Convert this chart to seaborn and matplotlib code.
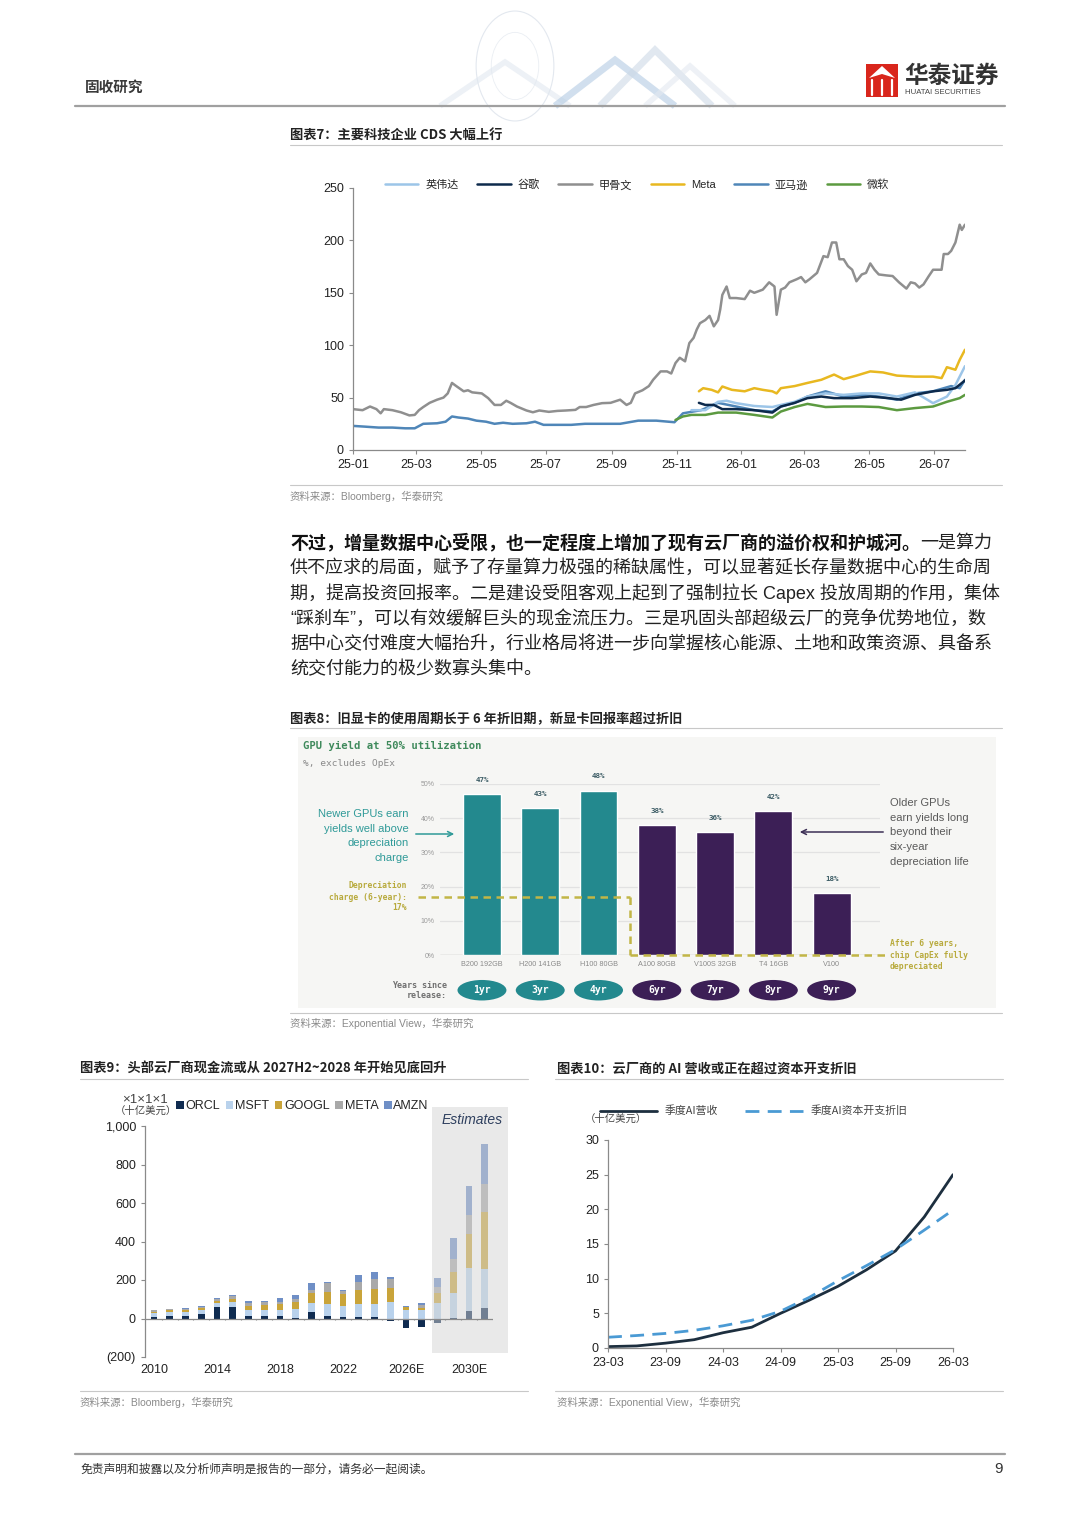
import numpy as np
import pandas as pd
import matplotlib
matplotlib.use('Agg')
import matplotlib.pyplot as plt
import matplotlib.dates as mdates
from matplotlib.patches import Rectangle, Ellipse, Polygon, Circle, FancyArrowPatch, Patch
from matplotlib.lines import Line2D
from matplotlib.text import Annotation
import seaborn as sns

# ---------------- DATA ----------------
# Chart 7: CDS (bp)
oracle_dates = ['2025-01-01','2025-01-10','2025-01-17','2025-01-23','2025-01-27','2025-01-30','2025-02-07','2025-02-15',
 '2025-02-23','2025-02-28','2025-03-04','2025-03-08','2025-03-14','2025-03-21','2025-03-27','2025-03-31','2025-04-04',
 '2025-04-08','2025-04-15','2025-04-19','2025-04-23','2025-05-02','2025-05-08','2025-05-14','2025-05-20','2025-05-25',
 '2025-05-29','2025-06-04','2025-06-13','2025-06-19','2025-06-25','2025-07-04','2025-07-12','2025-07-20','2025-07-29',
 '2025-08-02','2025-08-08','2025-08-15','2025-08-23','2025-08-31','2025-09-09','2025-09-15','2025-09-19','2025-09-23',
 '2025-09-30','2025-10-06','2025-10-10','2025-10-17','2025-10-23','2025-10-27','2025-10-31','2025-11-04','2025-11-09',
 '2025-11-13','2025-11-17','2025-11-20','2025-11-23','2025-11-28','2025-12-02','2025-12-06','2025-12-10','2025-12-12',
 '2025-12-14','2025-12-18','2025-12-21','2025-12-27','2026-01-04','2026-01-09','2026-01-13','2026-01-21','2026-01-27',
 '2026-02-01','2026-02-03','2026-02-07','2026-02-11','2026-02-15','2026-02-22','2026-02-26','2026-03-02','2026-03-06',
 '2026-03-13','2026-03-19','2026-03-23','2026-03-27','2026-03-31','2026-04-03','2026-04-07','2026-04-11','2026-04-15',
 '2026-04-19','2026-04-24','2026-04-28','2026-05-02','2026-05-06','2026-05-10','2026-05-17','2026-05-23','2026-05-29',
 '2026-06-05','2026-06-09','2026-06-13','2026-06-17','2026-06-21','2026-06-26','2026-06-30','2026-07-08','2026-07-10',
 '2026-07-14','2026-07-17','2026-07-21','2026-07-25','2026-07-27','2026-07-30']
oracle_cds = [39,38,41.5,39,35,39,38,36,33,33.5,38,41,45,48,50,54,64,61,56,57,55,54,49.5,43,43,47,45,41.5,37.7,36,37.7,
 36.4,37.3,37.7,38.3,41,41,43,44.7,45,48,43,45,54,57,61,67,75,75,73,83,88,84.6,102,107,115,121,124,128,118,124,134,
 148,156,145,145,144,152,150,153,160,156,129,153,155,160,163,165,160,163,169,185,184,198,198,182,182,175.5,172,161,
 167.5,169,178,172,167.5,166.6,166,160,154,160,159,155,158,166,172,172,187,187,190,198,215,210,215]

amazon_dates = ['2025-01-01','2025-01-12','2025-01-25','2025-02-07','2025-02-19','2025-02-28','2025-03-08','2025-03-21',
 '2025-03-29','2025-04-04','2025-04-10','2025-04-19','2025-04-27','2025-05-06','2025-05-14','2025-05-22','2025-05-31',
 '2025-06-13','2025-06-21','2025-06-29','2025-07-12','2025-07-25','2025-08-07','2025-08-23','2025-09-09','2025-09-26',
 '2025-10-13','2025-10-30','2025-11-07','2025-11-24','2025-12-10','2025-12-27','2026-01-13','2026-01-30','2026-02-07',
 '2026-02-20','2026-03-04','2026-03-21','2026-04-07','2026-04-24','2026-05-10','2026-05-27','2026-06-13','2026-06-30',
 '2026-07-17','2026-07-25','2026-07-30']
amazon_cds = [23,22.3,21.4,21.4,20.7,20.7,25,25.5,27,32,31,30,28,27,25,26,25,25.5,27,24,24,24,25,25,25,28,28,26.5,35,38,
 45,41.5,38,36.7,41.5,45,51,56,51,52.6,51,48,54,56,61,59,67]

msft_dates = ['2025-10-31','2025-11-07','2025-11-15','2025-11-28','2025-12-10','2025-12-27','2026-01-13','2026-01-30',
 '2026-02-07','2026-02-20','2026-03-04','2026-03-21','2026-04-07','2026-04-24','2026-05-10','2026-05-27','2026-06-13',
 '2026-06-30','2026-07-13','2026-07-25','2026-07-30']
msft_cds = [28.7,32,33.5,33.5,35.7,35.7,33.5,31,36.7,41,44,41,41.5,41.5,41,38,40,41.5,46,49.5,52.6]

meta_dates = ['2025-11-22','2025-11-26','2025-12-04','2025-12-10','2025-12-14','2025-12-23','2026-01-04','2026-01-13',
 '2026-01-21','2026-01-30','2026-02-03','2026-02-07','2026-02-20','2026-03-04','2026-03-17','2026-03-29','2026-04-07',
 '2026-04-19','2026-05-02','2026-05-14','2026-05-27','2026-06-13','2026-06-30','2026-07-08','2026-07-13','2026-07-21',
 '2026-07-25','2026-07-30']
meta_cds = [56,59,57.4,55,60.6,57.4,56,59,57.4,56,54,59,61,64,67,72,67.6,71,75,74,71,70,70,68.6,79,76.6,86,95.7]

google_dates = ['2025-11-22','2025-11-28','2025-12-06','2025-12-14','2025-12-27','2026-01-13','2026-01-30','2026-02-07',
 '2026-02-20','2026-03-04','2026-03-17','2026-03-29','2026-04-15','2026-05-02','2026-05-19','2026-05-31','2026-06-13',
 '2026-06-30','2026-07-13','2026-07-21','2026-07-30']
google_cds = [45,43,43,39,39,38,35.7,41.5,45,49.5,51,49.5,49.5,51,49.5,48,52.6,56,57.4,59,66.4]

nvda_dates = ['2025-11-15','2025-11-28','2025-12-10','2025-12-18','2025-12-27','2026-01-13','2026-01-30','2026-02-07',
 '2026-02-20','2026-03-04','2026-03-21','2026-04-07','2026-04-24','2026-05-10','2026-05-27','2026-06-13','2026-06-30',
 '2026-07-13','2026-07-21','2026-07-30']
nvda_cds = [38,38,46,47,44.7,42,41,43,46,51,54,52.6,54,54,51,55,44.7,51,62,80]

cds_names = ['英伟达', '谷歌', '甲骨文', 'Meta', '亚马逊', '微软']
cds_colors = ['#9cc5e8', '#0d2a4c', '#8f8f8f', '#e8b820', '#4f86b8', '#5c9a40']
cds_ticks = ['2025-01-01','2025-03-01','2025-05-01','2025-07-01','2025-09-01','2025-11-01',
             '2026-01-01','2026-03-01','2026-05-01','2026-07-01']

# Chart 8: GPU yield at 50% utilization
gpu_models = ['B200 192GB', 'H200 141GB', 'H100 80GB', 'A100 80GB', 'V100S 32GB', 'T4 16GB', 'V100']
gpu_yield = [47, 43, 48, 38, 36, 42, 18]
gpu_age = ['1yr', '3yr', '4yr', '6yr', '7yr', '8yr', '9yr']
depreciation_charge = 17
gpu_colors = ['#23898e', '#23898e', '#23898e', '#3c1f56', '#3c1f56', '#3c1f56', '#3c1f56']

# Chart 9: hyperscaler free cash flow (USD bn)
fcf_years = ['2010','2011','2012','2013','2014','2015','2016','2017','2018','2019','2020','2021','2022','2023',
             '2024','2025','2026E','2027E','2028E','2029E','2030E','2031E']
fcf_orcl = [8, 12, 12, 25, 58, 62, 15, 15, 12, 3, 35, 15, 8, 6, 10, -12, -48, -43, -25, 2, 38, 52]
fcf_msft = [22, 23, 22, 20, 24, 24, 28, 28, 31, 45, 43, 60, 56, 70, 66, 87, 43, 45, 82, 128, 223, 204]
fcf_googl = [2, 8, 12, 12, 10, 17, 23, 25, 30, 38, 52, 65, 61, 70, 78, 73, 16, 12, 52, 113, 177, 296]
fcf_meta = [10, 4, 5, 5, 8, 12, 12, 18, 12, 17, 17, 46, 20, 45, 49, 45, 3, 14, 28, 64, 101, 148]
fcf_amzn = [2, 4, 4, 4, 4, 5, 14, 6, 19, 18, 35, 2, 3, 37, 38, 12, 2, 10, 50, 110, 148, 205]
fcf_names = ['ORCL', 'MSFT', 'GOOGL', 'META', 'AMZN']
fcf_colors = ['#0f2b50', '#b9d2ec', '#c9a43a', '#a9a9a9', '#6f8fc6']
fcf_xticks = ['2010', '2014', '2018', '2022', '2026E', '2030E']
fcf_yticks = [-200, 0, 200, 400, 600, 800, 1000]
fcf_yticklabels = ['(200)', '0', '200', '400', '600', '800', '1,000']

# Chart 10: quarterly AI revenue vs AI capex depreciation (USD bn)
quarters = ['23-03','23-06','23-09','23-12','24-03','24-06','24-09','24-12','25-03','25-06','25-09','25-12','26-03']
ai_revenue = [0.2, 0.3, 0.7, 1.2, 2.2, 3.0, 5.0, 6.9, 8.9, 11.3, 14.0, 18.9, 25.0]
ai_depreciation = [1.55, 1.8, 2.1, 2.55, 3.2, 4.0, 5.3, 7.3, 9.7, 11.9, 14.2, 17.0, 19.9]
q_ticks = ['23-03', '23-09', '24-03', '24-09', '25-03', '25-09', '26-03']

# ---------------- SETUP ----------------
sns.set_theme(style='white')
plt.rcParams['font.family'] = ['Liberation Sans', 'Noto Sans CJK SC', 'DejaVu Sans']
plt.rcParams['axes.unicode_minus'] = False
CJK = ['Noto Sans CJK SC', 'DejaVu Sans']
MIX = ['Liberation Sans', 'Noto Sans CJK SC', 'DejaVu Sans']
MONO = ['DejaVu Sans Mono']

W, H = 1080, 1527
fig = plt.figure(figsize=(W / 100, H / 100), dpi=100)
fig.patch.set_facecolor('white')

def fx(x): return x / W
def fy(y): return 1 - y / H
def axrect(l, t, r, b): return [fx(l), fy(b), (r - l) / W, (b - t) / H]
def hline(x0, x1, y, color='#c8c8c8', lw=0.8):
    fig.add_artist(Line2D([fx(x0), fx(x1)], [fy(y), fy(y)], transform=fig.transFigure, color=color, lw=lw))
def ftext(x, y, s, **kw):
    kw.setdefault('va', 'center')
    return fig.text(fx(x), fy(y), s, **kw)

# ---------------- HEADER ----------------
fig.add_artist(Circle((fx(515), fy(66)), 0.036, transform=fig.transFigure, facecolor='none',
                      edgecolor='#e3e8ef', lw=0.8))
fig.add_artist(Circle((fx(515), fy(66)), 0.022, transform=fig.transFigure, facecolor='none',
                      edgecolor='#eaeef3', lw=0.6))
for tri, col, lw in [([(440, 106), (505, 62), (570, 106)], '#e1e8f0', 4),
                     ([(555, 106), (615, 60), (675, 106)], '#b3cbe3', 5),
                     ([(600, 106), (655, 50), (712, 106)], '#cdd9e6', 5),
                     ([(645, 106), (690, 66), (735, 106)], '#e3e9f0', 4)]:
    fig.add_artist(Polygon([(fx(a), fy(b)) for a, b in tri], closed=False, transform=fig.transFigure,
                           facecolor='none', edgecolor=col, lw=lw, alpha=0.6))
ftext(85, 87, '固收研究', fontsize=10.5, fontweight='bold', color='#3a3a3a', family=CJK)
fig.add_artist(Rectangle((fx(866), fy(97)), 32 / W, 33 / H, transform=fig.transFigure,
                         facecolor='#d9261c', edgecolor='none'))
for xx in [872, 882, 892]:
    fig.add_artist(Line2D([fx(xx), fx(xx)], [fy(95), fy(80)], transform=fig.transFigure, color='white', lw=1.6))
fig.add_artist(Polygon([(fx(869), fy(78)), (fx(882), fy(66)), (fx(895), fy(78)), (fx(882), fy(74))],
                       transform=fig.transFigure, facecolor='white', edgecolor='none'))
ftext(904, 76, '华泰证券', fontsize=17, fontweight='bold', color='#333333', family=CJK)
ftext(905, 93, 'HUATAI SECURITIES', fontsize=5.6, color='#444444')
hline(75, 1005, 106, color='#a0a0a0', lw=1.6)

# ---------------- CHART 7 ----------------
ftext(290, 135, '图表7：主要科技企业 CDS 大幅上行', fontsize=9.5, fontweight='bold', color='#222', family=CJK)
hline(290, 1002, 145)
ax7 = fig.add_axes(axrect(353, 188, 965, 450))
series7 = [('甲骨文', oracle_dates, oracle_cds), ('亚马逊', amazon_dates, amazon_cds), ('微软', msft_dates, msft_cds),
           ('英伟达', nvda_dates, nvda_cds), ('谷歌', google_dates, google_cds), ('Meta', meta_dates, meta_cds)]
cmap7 = dict(zip(cds_names, cds_colors))
for name, d, v in series7:
    sns.lineplot(x=pd.to_datetime(d), y=v, ax=ax7, color=cmap7[name], lw=1.8, label=name)
ax7.set_xlim(pd.Timestamp('2025-01-01'), pd.Timestamp('2026-07-30'))
ax7.set_ylim(0, 250)
ax7.set_yticks([0, 50, 100, 150, 200, 250])
ax7.set_xticks(pd.to_datetime(cds_ticks))
ax7.xaxis.set_major_formatter(mdates.DateFormatter('%y-%m'))
ax7.set_xlabel(''); ax7.set_ylabel('')
for s in ['top', 'right']:
    ax7.spines[s].set_visible(False)
for s in ['left', 'bottom']:
    ax7.spines[s].set_color('#8a8a8a'); ax7.spines[s].set_linewidth(0.9)
ax7.tick_params(axis='both', labelsize=9, colors='#8a8a8a', labelcolor='#222', length=3, width=0.8, direction='out')
ax7.tick_params(axis='both', which='both', bottom=True, left=True)
h, l = ax7.get_legend_handles_labels()
hd = dict(zip(l, h))
ax7.legend([hd[n] for n in cds_names], cds_names, loc='center', bbox_to_anchor=(fx(637), fy(185)),
           bbox_transform=fig.transFigure, ncol=6, frameon=False, fontsize=8, handlelength=3.0,
           handletextpad=0.6, columnspacing=1.7, borderpad=0)
hline(290, 1002, 485)
ftext(290, 496, '资料来源：Bloomberg，华泰研究', fontsize=7.5, color='#8a8a8a')

# ---------------- PARAGRAPH ----------------
para_fs = 13
t_bold = ftext(290, 543, '不过，增量数据中心受限，也一定程度上增加了现有云厂商的溢价权和护城河。', fontsize=para_fs,
               fontweight='bold', color='#111', family=CJK)
fig.add_artist(Annotation('一是算力', xy=(1, 0.5), xycoords=t_bold, va='center', ha='left', fontsize=para_fs,
                          color='#222', family=CJK))
para_lines = ['供不应求的局面，赋予了存量算力极强的稀缺属性，可以显著延长存量数据中心的生命周',
              '期，提高投资回报率。二是建设受阻客观上起到了强制拉长 Capex 投放周期的作用，集体',
              '“踩刹车”，可以有效缓解巨头的现金流压力。三是巩固头部超级云厂的竞争优势地位，数',
              '据中心交付难度大幅抬升，行业格局将进一步向掌握核心能源、土地和政策资源、具备系',
              '统交付能力的极少数寡头集中。']
for i, line in enumerate(para_lines):
    ftext(290, 568 + i * 25.4, line, fontsize=para_fs, color='#222', family=MIX)

# ---------------- CHART 8 ----------------
ftext(290, 719, '图表8：旧显卡的使用周期长于 6 年折旧期，新显卡回报率超过折旧', fontsize=9.5, fontweight='bold',
      color='#222', family=CJK)
hline(290, 1002, 728)
fig.add_artist(Rectangle((fx(298), fy(1008)), (996 - 298) / W, (1008 - 737) / H, transform=fig.transFigure,
                         facecolor='#f6f6f4', edgecolor='none', zorder=0))
ftext(303, 746, 'GPU yield at 50% utilization', fontsize=7.6, fontweight='bold', color='#3f8a5c', family=MONO)
ftext(303, 764, '%, excludes OpEx', fontsize=6.8, color='#8a8a8a', family=MONO)

ax8 = fig.add_axes(axrect(440, 784, 880, 955))
ax8.set_facecolor('none')
sns.barplot(x=gpu_models, y=gpu_yield, hue=gpu_models, palette=gpu_colors, legend=False, width=0.65,
            saturation=1, ax=ax8, zorder=3)
ax8.set_xlim(-0.72, 6.83)
ax8.set_ylim(0, 50)
ax8.set_axisbelow(True)
ax8.set_yticks([0, 10, 20, 30, 40, 50])
ax8.set_yticklabels(['0%', '10%', '20%', '30%', '40%', '50%'])
ax8.yaxis.grid(True, color='#e2e2e2', lw=0.9)
ax8.xaxis.grid(False)
ax8.tick_params(axis='y', length=0, pad=4, labelsize=5, labelcolor='#9a9a9a')
ax8.tick_params(axis='x', length=0, pad=4, labelsize=5.2, labelcolor='#8a8a8a')
ax8.set_xlabel(''); ax8.set_ylabel('')
for s in ax8.spines.values():
    s.set_visible(False)
ax8.axhline(0, color='#b0b0b0', lw=0.9, zorder=2)
for i, v in enumerate(gpu_yield):
    ax8.text(i, v + 4.2, f'{v}%', ha='center', va='center', fontsize=5.4, fontweight='bold',
             color='#3d5d66', family=MONO)
dep_col = '#c2b646'
split_x = 2.54
ax8.plot([-1.1, split_x], [depreciation_charge, depreciation_charge], ls=(0, (3, 2.2)), color=dep_col, lw=1.8,
         clip_on=False, zorder=4)
ax8.plot([split_x, split_x], [depreciation_charge, 0], ls=(0, (3, 2.2)), color=dep_col, lw=1.8, clip_on=False, zorder=4)
ax8.plot([split_x, 6.93], [0, 0], ls=(0, (3, 2.2)), color=dep_col, lw=1.8, clip_on=False, zorder=4)
for i, (age, c) in enumerate(zip(gpu_age, gpu_colors)):
    ax8.add_patch(Ellipse((i, -10.3), 0.84, 6.0, facecolor=c, edgecolor='none', clip_on=False))
    ax8.text(i, -10.3, age, ha='center', va='center', fontsize=7, fontweight='bold', color='white',
             family=MONO, clip_on=False)
ftext(447, 985, 'Years since', fontsize=6, fontweight='bold', color='#707070', family=MONO, ha='right')
ftext(447, 996, 'release:', fontsize=6, fontweight='bold', color='#707070', family=MONO, ha='right')
for k, s in enumerate(['Newer GPUs earn', 'yields well above', 'depreciation', 'charge']):
    ftext(409, 814 + k * 14.7, s, fontsize=8, color='#2f9a98', ha='right')
fig.add_artist(FancyArrowPatch((fx(413), fy(834)), (fx(457), fy(834)), transform=fig.transFigure,
                               arrowstyle='->', mutation_scale=9, color='#2f9a98', lw=1.1))
for k, s in enumerate(['Depreciation', 'charge (6-year):', '17%']):
    ftext(407, 886 + k * 11, s, fontsize=5.8, fontweight='bold', color='#b8aa3c', family=MONO, ha='right')
for k, s in enumerate(['Older GPUs', 'earn yields long', 'beyond their', 'six-year', 'depreciation life']):
    ftext(890, 803 + k * 14.7, s, fontsize=8, color='#5a5a5a', ha='left')
fig.add_artist(FancyArrowPatch((fx(886), fy(832)), (fx(797), fy(832)), transform=fig.transFigure,
                               arrowstyle='->', mutation_scale=9, color='#3c2f55', lw=1.1))
for k, s in enumerate(['After 6 years,', 'chip CapEx fully', 'depreciated']):
    ftext(890, 944 + k * 11, s, fontsize=5.8, fontweight='bold', color='#b8aa3c', family=MONO, ha='left')
hline(290, 1002, 1013)
ftext(290, 1023, '资料来源：Exponential View，华泰研究', fontsize=7.5, color='#8a8a8a')

# ---------------- CHART 9 ----------------
ftext(80, 1069, '图表9：头部云厂商现金流或从 2027H2~2028 年开始见底回升', fontsize=9.5, fontweight='bold',
      color='#222', family=CJK)
hline(80, 528, 1079)
ax9 = fig.add_axes(axrect(145, 1126, 493, 1357))
ax9.set_facecolor('none')
xpos = np.arange(len(fcf_years))
pos_base = np.zeros(len(fcf_years))
neg_base = np.zeros(len(fcf_years))
for name, vals, col in zip(fcf_names, [fcf_orcl, fcf_msft, fcf_googl, fcf_meta, fcf_amzn], fcf_colors):
    vals = np.array(vals, dtype=float)
    bottoms = np.where(vals >= 0, pos_base, neg_base)
    ax9.bar(xpos, vals, bottom=bottoms, width=0.42, color=col, label=name, zorder=2, linewidth=0)
    pos_base += np.where(vals >= 0, vals, 0)
    neg_base += np.where(vals < 0, vals, 0)
est_start = fcf_years.index('2028E') - 0.35
ax9.add_patch(Rectangle((est_start, -181), 22.48 - est_start, 1279, facecolor='#d4d4d4', alpha=0.5,
                        edgecolor='none', zorder=3, clip_on=False))
ax9.text(20.2, 1030, 'Estimates', fontsize=10, style='italic', color='#2e3f5e', ha='center', va='center', zorder=4)
ax9.set_xlim(-0.57, 21.52)
ax9.set_ylim(-200, 1000)
ax9.axhline(0, color='#8a8a8a', lw=0.9, zorder=3)
ax9.vlines(xpos + 0.5, -9, 0, color='#8a8a8a', lw=0.8, zorder=3)
ax9.set_xticks([fcf_years.index(t) for t in fcf_xticks])
ax9.set_xticklabels(fcf_xticks)
ax9.set_yticks(fcf_yticks)
ax9.set_yticklabels(fcf_yticklabels)
for s in ['top', 'right', 'bottom']:
    ax9.spines[s].set_visible(False)
ax9.spines['left'].set_color('#8a8a8a'); ax9.spines['left'].set_linewidth(0.9)
ax9.tick_params(axis='x', length=0, pad=5, labelsize=9, labelcolor='#222')
ax9.tick_params(axis='y', length=3, width=0.8, colors='#8a8a8a', labelcolor='#222', labelsize=9, direction='out')
ax9.tick_params(axis='y', which='both', left=True)
ax9.legend(handles=[Patch(facecolor=c, edgecolor='none') for c in fcf_colors], labels=fcf_names,
           loc='center left', bbox_to_anchor=(fx(176), fy(1106)), bbox_transform=fig.transFigure, ncol=5,
           frameon=False, fontsize=9, handlelength=0.6, handleheight=0.6, handletextpad=0.15,
           columnspacing=0.45, borderpad=0, borderaxespad=0)
ftext(145, 1100, '×1×1×1', fontsize=9.5, color='#444', ha='center')
ftext(146, 1111, '（十亿美元）', fontsize=7.5, color='#444', ha='center', family=CJK)
hline(80, 528, 1391)
ftext(80, 1402, '资料来源：Bloomberg，华泰研究', fontsize=7.5, color='#8a8a8a')

# ---------------- CHART 10 ----------------
ftext(557, 1069, '图表10：云厂商的 AI 营收或正在超过资本开支折旧', fontsize=9.5, fontweight='bold', color='#222', family=CJK)
hline(555, 1003, 1079)
ax10 = fig.add_axes(axrect(608, 1140, 953, 1348))
ax10.set_facecolor('none')
qx = np.arange(len(quarters))
sns.lineplot(x=qx, y=ai_revenue, ax=ax10, color='#1d2f3f', lw=2.0, label='季度AI营收')
sns.lineplot(x=qx, y=ai_depreciation, ax=ax10, color='#4a9ad4', lw=2.0, label='季度AI资本开支折旧')
ax10.lines[1].set_dashes((5, 3))
ax10.set_xlim(0, len(quarters) - 1)
ax10.set_ylim(0, 30)
ax10.set_xticks([quarters.index(q) for q in q_ticks])
ax10.set_xticklabels(q_ticks)
ax10.set_yticks([0, 5, 10, 15, 20, 25, 30])
ax10.set_xlabel(''); ax10.set_ylabel('')
for s in ['top', 'right']:
    ax10.spines[s].set_visible(False)
for s in ['left', 'bottom']:
    ax10.spines[s].set_color('#8a8a8a'); ax10.spines[s].set_linewidth(0.9)
ax10.tick_params(axis='both', labelsize=9, colors='#8a8a8a', labelcolor='#222', length=3, width=0.8, direction='out')
ax10.tick_params(axis='both', which='both', bottom=True, left=True)
leg10 = ax10.legend(loc='center left', bbox_to_anchor=(fx(600), fy(1111)), bbox_transform=fig.transFigure,
                    ncol=2, frameon=False, fontsize=7.8, handlelength=5.3, handletextpad=0.7,
                    columnspacing=2.5, borderpad=0, borderaxespad=0)
for t in leg10.get_texts():
    t.set_family(CJK); t.set_color('#444')
ftext(585, 1119, '（十亿美元）', fontsize=7.5, color='#444', family=CJK)
hline(555, 1003, 1391)
ftext(557, 1402, '资料来源：Exponential View，华泰研究', fontsize=7.5, color='#8a8a8a')

# ---------------- FOOTER ----------------
hline(75, 1005, 1454, color='#a0a0a0', lw=1.6)
ftext(80, 1469, '免责声明和披露以及分析师声明是报告的一部分，请务必一起阅读。', fontsize=8.5, color='#333', family=CJK)
ftext(1003, 1469, '9', fontsize=11, color='#333', ha='right')

fig.savefig('out.png', dpi=100, facecolor='white')
